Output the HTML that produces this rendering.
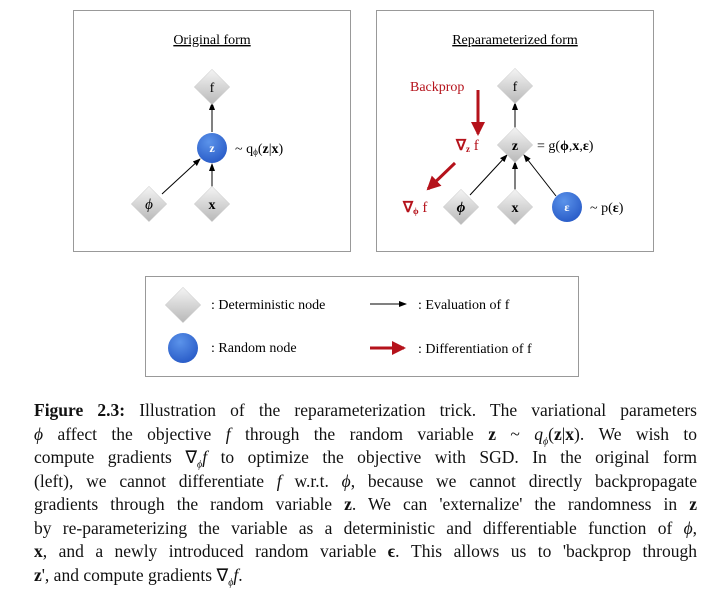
<!DOCTYPE html>
<html><head><meta charset="utf-8"><style>
body{margin:0;background:#fff;width:715px;height:594px;position:relative;overflow:hidden;font-family:"Liberation Serif",serif}
.cap{position:absolute;left:34px;width:663px;font-size:17.5px;line-height:20px;text-align:justify;text-align-last:justify;white-space:nowrap;color:#111}
.cap.last{text-align-last:left}
svg{position:absolute;left:0;top:0}
</style></head><body>
<svg width="715" height="594" font-family="Liberation Serif, serif">
<defs>
<linearGradient id="dg" x1="0" y1="0" x2="1" y2="1"><stop offset="0" stop-color="#f4f4f4"/><stop offset="1" stop-color="#b8b8b8"/></linearGradient>
<radialGradient id="cg" cx="0.4" cy="0.3" r="0.8"><stop offset="0" stop-color="#5b93ea"/><stop offset="1" stop-color="#2456c4"/></radialGradient>
<marker id="ab" markerWidth="8" markerHeight="8" refX="7" refY="4" orient="auto" markerUnits="userSpaceOnUse"><path d="M0,1 L8,4 L0,7z" fill="#000"/></marker>
<marker id="ar" markerWidth="14" markerHeight="14" refX="12" refY="7" orient="auto" markerUnits="userSpaceOnUse"><path d="M0,0 L14,7 L0,14z" fill="#b5121b"/></marker>
<g id="dia"><rect x="-12.5" y="-12.5" width="25" height="25" transform="rotate(45)" fill="url(#dg)" stroke="#ccc" stroke-width="0.5"/></g>
</defs>
<rect x="73.5" y="10.5" width="277" height="241" fill="#fff" stroke="#999"/>
<rect x="376.5" y="10.5" width="277" height="241" fill="#fff" stroke="#999"/>
<rect x="145.5" y="276.5" width="433" height="100" fill="#fff" stroke="#999"/>
<!-- left -->
<text x="212" y="44" font-size="14" text-anchor="middle" text-decoration="underline">Original form</text>
<line x1="212" y1="132" x2="212" y2="103" stroke="#000" marker-end="url(#ab)"/>
<line x1="212" y1="188" x2="212" y2="164" stroke="#000" marker-end="url(#ab)"/>
<line x1="162" y1="194" x2="200" y2="159" stroke="#000" marker-end="url(#ab)"/>
<use href="#dia" x="212" y="87"/><text x="212" y="92" font-size="14" text-anchor="middle">f</text>
<circle cx="212" cy="148" r="15" fill="url(#cg)"/><text x="212" y="152" font-size="12" font-weight="bold" fill="#fff" text-anchor="middle">z</text>
<use href="#dia" x="149" y="204"/><text x="149" y="209" font-size="15" font-style="italic" text-anchor="middle">ϕ</text>
<use href="#dia" x="212" y="204"/><text x="212" y="209" font-size="14" font-weight="bold" text-anchor="middle">x</text>
<text x="235" y="153" font-size="14">~ q<tspan font-size="9" dy="2">ϕ</tspan><tspan dy="-2">(<tspan font-weight="bold">z</tspan>|<tspan font-weight="bold">x</tspan>)</tspan></text>
<!-- right -->
<text x="515" y="44" font-size="14" text-anchor="middle" text-decoration="underline">Reparameterized form</text>
<line x1="515" y1="130" x2="515" y2="103" stroke="#000" marker-end="url(#ab)"/>
<line x1="515" y1="190" x2="515" y2="162" stroke="#000" marker-end="url(#ab)"/>
<line x1="470" y1="195" x2="507" y2="155" stroke="#000" marker-end="url(#ab)"/>
<line x1="556" y1="196" x2="524" y2="155" stroke="#000" marker-end="url(#ab)"/>
<use href="#dia" x="515" y="86"/><text x="515" y="91" font-size="14" text-anchor="middle">f</text>
<use href="#dia" x="515" y="145"/><text x="515" y="150" font-size="14" font-weight="bold" text-anchor="middle">z</text>
<use href="#dia" x="461" y="207"/><text x="461" y="212" font-size="15" font-weight="bold" font-style="italic" text-anchor="middle">ϕ</text>
<use href="#dia" x="515" y="207"/><text x="515" y="212" font-size="14" font-weight="bold" text-anchor="middle">x</text>
<circle cx="567" cy="207" r="15" fill="url(#cg)"/><text x="567" y="211" font-size="12" font-weight="bold" fill="#fff" text-anchor="middle">ε</text>
<text x="537" y="150" font-size="14">= g(<tspan font-weight="bold">ϕ</tspan>,<tspan font-weight="bold">x</tspan>,<tspan font-weight="bold">ε</tspan>)</text>
<text x="590" y="212" font-size="14">~ p(<tspan font-weight="bold">ε</tspan>)</text>
<text x="410" y="91" font-size="14" fill="#b5121b">Backprop</text>
<line x1="478" y1="90" x2="478" y2="134" stroke="#b5121b" stroke-width="3" marker-end="url(#ar)"/>
<text x="456" y="150" font-size="15" fill="#b5121b"><tspan font-weight="bold">∇</tspan><tspan font-size="9" font-weight="bold" dy="2">z</tspan><tspan dy="-2"> f</tspan></text>
<line x1="455" y1="163" x2="428" y2="189" stroke="#b5121b" stroke-width="3" marker-end="url(#ar)"/>
<text x="403" y="212" font-size="15" fill="#b5121b"><tspan font-weight="bold">∇</tspan><tspan font-size="9" font-weight="bold" dy="2">ϕ</tspan><tspan dy="-2"> f</tspan></text>
<!-- legend -->
<rect x="-12.5" y="-12.5" width="25" height="25" transform="translate(183 305) rotate(45)" fill="url(#dg)" stroke="#ccc" stroke-width="0.5"/>
<circle cx="183" cy="348" r="15" fill="url(#cg)"/>
<text x="211" y="309" font-size="14">: Deterministic node</text>
<text x="211" y="352" font-size="14">: Random node</text>
<line x1="370" y1="304" x2="406" y2="304" stroke="#000" marker-end="url(#ab)"/>
<text x="418" y="309" font-size="14">: Evaluation of f</text>
<line x1="370" y1="348" x2="404" y2="348" stroke="#b5121b" stroke-width="3" marker-end="url(#ar)"/>
<text x="418" y="353" font-size="14">: Differentiation of f</text>
</svg>
<div class="cap" style="top:400px"><b>Figure 2.3:</b> Illustration of the reparameterization trick. The variational parameters</div>
<div class="cap" style="top:424px"><i>ϕ</i> affect the objective <i>f</i> through the random variable <b>z</b> ~ <i>q<sub style="font-size:10px">ϕ</sub></i>(<b>z</b>|<b>x</b>). We wish to</div>
<div class="cap" style="top:447px">compute gradients ∇<sub style="font-size:10px"><i>ϕ</i></sub><i>f</i> to optimize the objective with SGD. In the original form</div>
<div class="cap" style="top:471px">(left), we cannot differentiate <i>f</i> w.r.t. <i>ϕ</i>, because we cannot directly backpropagate</div>
<div class="cap" style="top:494px">gradients through the random variable <b>z</b>. We can 'externalize' the randomness in <b>z</b></div>
<div class="cap" style="top:518px">by re-parameterizing the variable as a deterministic and differentiable function of <i>ϕ</i>,</div>
<div class="cap" style="top:541px"><b>x</b>, and a newly introduced random variable <b>ϵ</b>. This allows us to 'backprop through</div>
<div class="cap last" style="top:565px"><b>z</b>', and compute gradients ∇<sub style="font-size:10px"><i>ϕ</i></sub><i>f</i>.</div>
</body></html>
